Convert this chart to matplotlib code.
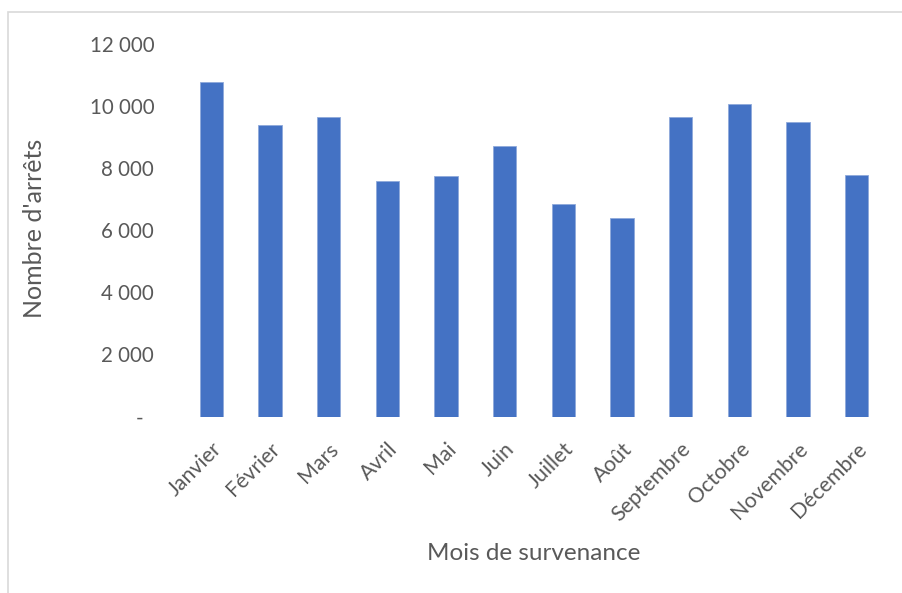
import matplotlib
matplotlib.use("Agg")
import matplotlib.pyplot as plt
import matplotlib.transforms as mtransforms
from matplotlib.patches import Rectangle

months = ["Janvier", "Février", "Mars", "Avril", "Mai", "Juin", "Juillet",
          "Août", "Septembre", "Octobre", "Novembre", "Décembre"]
arrets = [10770, 9400, 9660, 7590, 7760, 8730, 6860, 6380, 9650, 10060, 9480, 7790]
yticks = [0, 2000, 4000, 6000, 8000, 10000, 12000]
ytick_labels = ["-", "2 000", "4 000", "6 000", "8 000", "10 000", "12 000"]

plt.rcParams['font.family'] = ['Lato', 'DejaVu Sans']
text_color = "#595959"

fig = plt.figure(figsize=(9.03, 5.93), dpi=100)
# chart frame border
fig.patches.append(Rectangle((8/903, -0.1), 1.2, 1 - 12/593 + 0.1,
                             transform=fig.transFigure, fill=False,
                             edgecolor="#d9d9d9", linewidth=1.2))

ax = fig.add_axes([182/903, 1 - 416.5/593, (886 - 182)/903, (416.5 - 44)/593])
x = list(range(len(months)))
ax.bar(x, arrets, width=0.4, color="#4472C4", edgecolor="#8EA9DB", linewidth=0.6)
ax.set_xlim(-0.5, len(months) - 0.5)
ax.set_ylim(0, 12000)
for s in ax.spines.values():
    s.set_visible(False)
ax.set_yticks(yticks)
ax.set_yticklabels(ytick_labels, fontsize=14.8, color=text_color)
ax.set_xticks(x)
ax.set_xticklabels(months, fontsize=15.3, color=text_color, rotation=45,
                   ha='right', va='top', rotation_mode='anchor')
ax.tick_params(axis='both', length=0)
ax.tick_params(axis='y', pad=20)
ax.tick_params(axis='x', pad=16)
# shift zero label like Excel accounting format
lbl0 = ax.get_yticklabels()[0]
lbl0.set_transform(lbl0.get_transform() +
                   mtransforms.ScaledTranslation(-11/100, 0, fig.dpi_scale_trans))

fig.text(35/903, 1 - 228/593, "Nombre d'arrêts", rotation=90, fontsize=18,
         color=text_color, ha='center', va='center')
fig.text(534/903, 1 - 553/593, "Mois de survenance", fontsize=17.5,
         color=text_color, ha='center', va='center')

fig.savefig("out.png", dpi=100)
